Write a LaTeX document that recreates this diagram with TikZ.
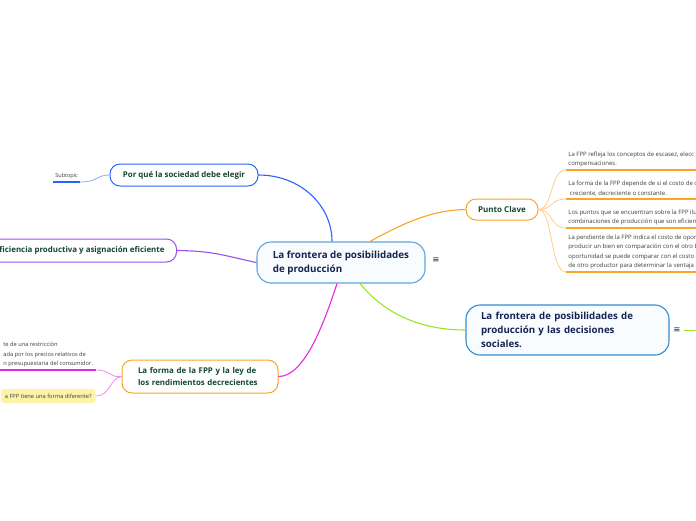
\documentclass[tikz,border=0pt]{standalone}
\usepackage{fontspec}
\setmainfont{Open Sans}
\newfontfamily\symfont{DejaVu Sans}
\usetikzlibrary{calc}

\definecolor{bluebr}{RGB}{40,100,250}
\definecolor{lightblue}{RGB}{140,170,250}
\definecolor{purplebr}{RGB}{150,80,240}
\definecolor{magbr}{RGB}{230,40,230}
\definecolor{lightmag}{RGB}{240,140,240}
\definecolor{orangebr}{RGB}{250,165,40}
\definecolor{lightorange}{RGB}{255,205,140}
\definecolor{limebr}{RGB}{150,230,40}
\definecolor{rootline}{RGB}{95,165,220}
\definecolor{decline}{RGB}{50,140,210}
\definecolor{rootfill}{RGB}{248,252,255}
\definecolor{topicgreen}{RGB}{20,70,50}
\definecolor{navytext}{RGB}{20,35,80}
\definecolor{subgray}{RGB}{60,60,60}
\definecolor{notefill}{RGB}{252,243,168}

\tikzset{
  rootbox/.style={draw=rootline, fill=rootfill, rounded corners=14pt, line width=1.1pt,
    align=left, inner xsep=15pt, text=navytext, font=\bfseries\fontsize{9.8}{14}\selectfont},
  topic/.style={draw, fill=white, rounded corners=10pt, line width=1pt, text=topicgreen,
    font=\bfseries\fontsize{7.9}{11.5}\selectfont},
  subtxt/.style={text=subgray, align=left, inner xsep=2pt, inner ysep=2.5pt,
    font=\fontsize{6}{9.5}\selectfont},
  note/.style={fill=notefill, rounded corners=3pt, text=subgray, inner xsep=4pt,
    minimum height=14pt, font=\fontsize{5.7}{8}\selectfont},
  menu/.style={text=navytext, font=\symfont\fontsize{8.5}{8.5}\selectfont},
}

\begin{document}
\begin{tikzpicture}[x=1pt, y=-1pt, thick]
  \useasboundingbox (0,0) rectangle (696,520);
  \clip (0,0) rectangle (696,520);

  % -- Central topic --
  \node[rootbox, minimum width=168pt, minimum height=41pt] (root) at (341,262.5)
    {La frontera de posibilidades\\de producción};
  \node[menu] (rootmenu) at (436,260) {≡};

  % -- Main topics --
  \node[topic, draw=bluebr, minimum width=148pt, minimum height=22pt] (elegir) at (184,175)
    {Por qué la sociedad debe elegir};
  \node[topic, draw=purplebr, anchor=east, minimum height=23pt, inner xsep=12pt] (efic) at (177,250.5)
    {ficiencia productiva y asignación eficiente};
  \node[topic, draw=orangebr, align=left, text width=124pt, inner xsep=16pt, minimum height=33pt] (forma) at (200,376.5)
    {La forma de la FPP y la ley de\\los rendimientos decrecientes};
  \node[topic, draw=orangebr, minimum width=72pt, minimum height=21pt, font=\bfseries\fontsize{8}{10}\selectfont] (clave) at (502,209.5)
    {Punto Clave};
  \node[rootbox, draw=decline, text width=173pt, minimum height=50pt, font=\bfseries\fontsize{9.7}{14}\selectfont] (decis) at (567.5,330)
    {La frontera de posibilidades de\\producción y las decisiones\\sociales.};
  \node[menu] (decismenu) at (677,330) {≡};

  % -- Subtopics --
  \node[subtxt, anchor=south west, font=\fontsize{5.5}{7}\selectfont] (subt) at (53,182) {Subtopic};
  \node[subtxt, anchor=south west, inner xsep=3pt, font=\fontsize{5.7}{9.5}\selectfont] (restr) at (0,370)
    {te de una restricción\\ada por los precios relativos de\\n presupuestaria del consumidor.};
  \node[note, anchor=east] (difer) at (96,396) {a FPP tiene una forma diferente?};

  \node[subtxt, anchor=south west] (s1) at (566,170)
    {La FPP refleja los conceptos de escasez, elecc\\compensaciones.};
  \node[subtxt, anchor=south west] (s2) at (566,199)
    {La forma de la FPP depende de si el costo de o\\\ creciente, decreciente o constante.};
  \node[subtxt, anchor=south west] (s3) at (566,228)
    {Los puntos que se encuentran sobre la FPP ilu\\combinaciones de producción que son eficien};
  \node[subtxt, anchor=south west] (s4) at (566,272)
    {La pendiente de la FPP indica el costo de opor\\producir un bien en comparación con el otro b\\oportunidad se puede comparar con el costo d\\de otro productor para determinar la ventaja};

  % -- Underlines --
  \draw[bluebr, line width=1.4pt] (subt.south west) -- (subt.south east);
  \draw[magbr, line width=1.4pt] (restr.south west) -- (restr.south east);
  \foreach \s in {s1,s2,s3,s4}
    \draw[orangebr, line width=1.4pt] (\s.south west) -- ++(140,0);
  \draw[limebr, line width=1pt] (decismenu.east) -- ++(20,0);

  % -- Branches from the central topic --
  \draw[bluebr, line width=1.1pt] (elegir.east) .. controls (300,175) and (332,205) .. ($(root.north)+(-9,0)$);
  \draw[orangebr, line width=1.1pt] ($(root.north)+(29,0)$) .. controls (400,225) and (430,210) .. (clave.west);
  \draw[purplebr, line width=1.1pt] (efic.east) .. controls (215,251) and (225,256) .. (root.west);
  \draw[magbr, line width=1.1pt] (forma.east) .. controls (305,377) and (325,320) .. ($(root.south)+(-4,0)$);
  \draw[limebr, line width=1.1pt] ($(root.south)+(19,0)$) .. controls (390,320) and (430,330) .. (decis.west);

  % -- Branches to subtopics --
  \draw[lightblue, line width=0.8pt] (subt.south east) .. controls (98,182) and (96,175) .. (elegir.west);
  \draw[lightmag, line width=0.8pt] (restr.south east) .. controls (110,370) and (110,378) .. (forma.west);
  \draw[lightmag, line width=0.8pt] (difer.east) .. controls (110,396) and (110,378) .. (forma.west);
  \foreach \s in {s1,s2,s3,s4}
    \draw[lightorange, line width=0.8pt] (clave.east) .. controls (553,209.5) and (550,0 |- \s.south west) .. (\s.south west);

\end{tikzpicture}
\end{document}
